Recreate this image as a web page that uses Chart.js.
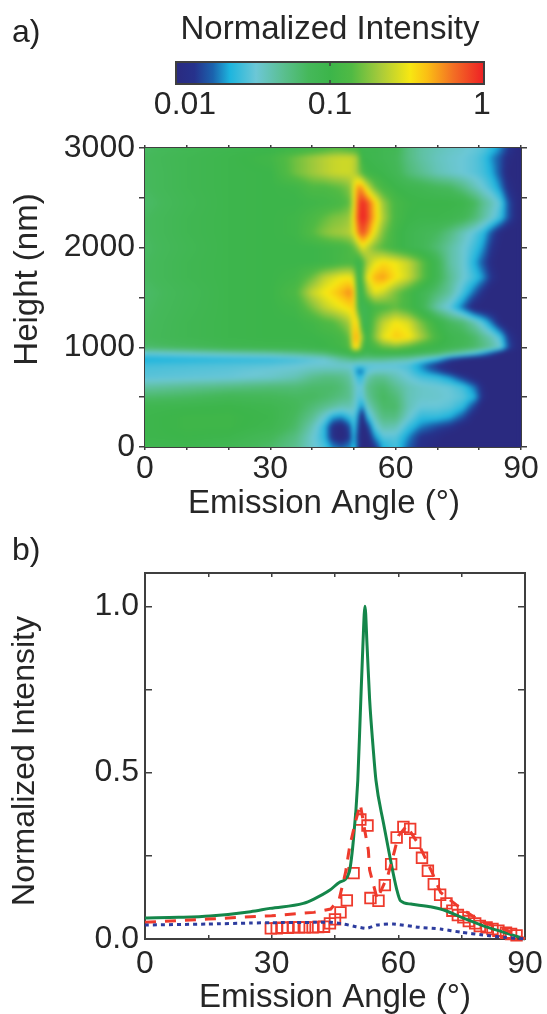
<!DOCTYPE html>
<html><head><meta charset="utf-8">
<style>
html,body{margin:0;padding:0;background:#fff;width:547px;height:1014px;overflow:hidden}
canvas{position:absolute;left:0}
.tag{position:absolute;left:12px;font:32px "Liberation Sans",Arial,sans-serif;color:#222}
</style>
<script src="https://cdn.jsdelivr.net/npm/chart.js@4/dist/chart.umd.min.js"></script>
</head><body>
<canvas id="bar" style="top:0;width:547px;height:125px" width="547" height="125"></canvas>
<canvas id="map" style="top:0;width:547px;height:530px" width="547" height="530"></canvas>
<canvas id="line" style="top:530px;width:547px;height:484px" width="547" height="484"></canvas>
<div class="tag" style="top:13px">a)</div>
<div class="tag" style="top:531px">b)</div>
<script>
const FONT='"Liberation Sans",Arial,sans-serif', INK='#262626', AXIS='#3f3f3f';

// colour bar
const barTicks=[0.01,0.1,1];
const barLabels=['0.01','0.1','1'];
const stopPos=[0,.06,.12,.175,.26,.35,.43,.5,.57,.665,.76,.815,.9,1];
const stopRGB=[[42,42,128],[38,50,140],[27,99,174],[29,181,222],[108,199,214],[90,191,143],[69,184,90],[60,181,74],[80,186,68],[169,203,58],[247,231,18],[251,191,20],[243,111,36],[238,31,37]];

// map: emission angle columns, height rows, intensity per row from 0 nm upward
const mapAngles=[0,10,20,30,36,40,43,45,47,49,50,51,52,53,55,57,60,63,66,70,73,76,79,81,83,85,87,90];
const mapHeights=[0,100,200,300,400,500,600,700,760,820,880,940,1000,1100,1250,1400,1550,1700,1850,2000,2150,2300,2450,2600,2750,2900,3000];
const mapIntensity=[
[.085,.09,.08,.065,.05,.035,.028,.02,.018,.02,.024,.016,.009,.009,.013,.022,.027,.017,.012,.01,.009,.009,.009,.009,.009,.009,.009,.009],
[.095,.1,.095,.075,.055,.035,.024,.012,.009,.014,.025,.014,.009,.009,.02,.03,.03,.02,.013,.011,.009,.009,.009,.009,.009,.009,.009,.009],
[.095,.105,.105,.09,.065,.04,.024,.012,.01,.016,.028,.016,.009,.012,.03,.042,.04,.026,.019,.015,.013,.01,.009,.009,.009,.009,.009,.009],
[.095,.105,.105,.095,.07,.05,.033,.022,.02,.026,.03,.02,.009,.022,.04,.055,.055,.035,.025,.025,.022,.016,.01,.009,.009,.009,.009,.009],
[.09,.095,.1,.09,.075,.06,.05,.045,.04,.04,.036,.027,.018,.035,.05,.065,.065,.04,.032,.032,.03,.024,.014,.009,.009,.009,.009,.009],
[.065,.07,.08,.075,.07,.07,.065,.06,.055,.05,.04,.03,.03,.045,.06,.07,.06,.04,.036,.035,.033,.03,.022,.012,.009,.009,.009,.009],
[.045,.05,.055,.06,.06,.065,.065,.065,.06,.05,.04,.032,.032,.05,.06,.065,.05,.04,.036,.034,.032,.027,.018,.011,.009,.009,.009,.009],
[.03,.031,.032,.035,.04,.05,.055,.055,.052,.045,.035,.025,.025,.04,.05,.05,.04,.033,.028,.025,.02,.014,.01,.009,.009,.009,.009,.009],
[.029,.03,.031,.034,.036,.04,.042,.042,.042,.04,.03,.018,.018,.03,.035,.036,.035,.03,.022,.016,.012,.009,.009,.009,.009,.009,.009,.009],
[.027,.028,.029,.03,.032,.034,.034,.034,.034,.033,.03,.03,.03,.03,.03,.03,.03,.028,.02,.013,.01,.009,.009,.009,.009,.009,.009,.009],
[.022,.023,.024,.025,.027,.03,.033,.038,.045,.05,.055,.05,.05,.05,.05,.05,.045,.042,.034,.024,.015,.011,.009,.009,.009,.009,.009,.009],
[.032,.036,.04,.044,.05,.055,.06,.07,.08,.09,.1,.1,.09,.08,.09,.09,.09,.085,.075,.065,.05,.04,.03,.022,.016,.011,.009,.009],
[.065,.072,.085,.09,.09,.095,.1,.105,.11,.14,.35,.35,.13,.1,.12,.15,.17,.14,.11,.095,.085,.075,.065,.055,.045,.035,.016,.009],
[.072,.085,.095,.1,.1,.1,.105,.11,.12,.16,.45,.45,.2,.1,.18,.3,.4,.35,.22,.12,.09,.08,.065,.05,.04,.028,.014,.009],
[.07,.085,.095,.1,.1,.11,.13,.14,.17,.22,.38,.33,.09,.085,.16,.24,.33,.28,.17,.1,.07,.06,.04,.028,.018,.011,.009,.009],
[.068,.082,.095,.1,.11,.17,.24,.28,.32,.36,.4,.12,.08,.09,.12,.13,.15,.12,.085,.042,.03,.018,.01,.009,.009,.009,.009,.009],
[.066,.08,.095,.1,.13,.25,.33,.38,.45,.55,.42,.09,.09,.18,.3,.26,.17,.12,.085,.06,.045,.028,.017,.012,.009,.009,.009,.009],
[.07,.085,.095,.1,.11,.16,.24,.28,.32,.33,.27,.085,.13,.28,.45,.5,.35,.26,.16,.08,.05,.035,.026,.02,.013,.01,.009,.009],
[.07,.085,.095,.1,.1,.1,.105,.11,.12,.125,.12,.09,.12,.2,.3,.36,.32,.25,.16,.08,.045,.035,.022,.016,.011,.009,.009,.009],
[.068,.082,.095,.1,.1,.1,.105,.11,.115,.13,.15,.2,.3,.25,.17,.14,.11,.09,.08,.06,.045,.035,.026,.02,.013,.01,.009,.009],
[.07,.085,.095,.1,.105,.14,.18,.2,.21,.23,.3,.55,.75,.6,.3,.17,.11,.09,.08,.07,.055,.04,.03,.024,.016,.011,.009,.009],
[.07,.085,.095,.1,.105,.125,.15,.17,.18,.2,.35,.75,1,.85,.42,.22,.12,.1,.095,.095,.09,.08,.06,.045,.035,.026,.016,.009],
[.066,.082,.095,.1,.1,.105,.11,.115,.125,.15,.3,.7,.95,.8,.4,.2,.12,.105,.1,.1,.1,.095,.07,.05,.04,.03,.016,.009],
[.07,.085,.095,.1,.105,.13,.13,.14,.15,.18,.3,.55,.5,.3,.16,.12,.1,.09,.085,.075,.07,.055,.04,.033,.027,.02,.012,.009],
[.07,.085,.095,.1,.16,.2,.23,.25,.26,.26,.24,.19,.14,.11,.1,.095,.08,.06,.05,.04,.036,.033,.03,.027,.022,.016,.01,.009],
[.072,.085,.095,.11,.16,.2,.23,.25,.26,.26,.24,.19,.1,.095,.09,.085,.075,.055,.045,.038,.035,.033,.03,.026,.02,.016,.011,.009],
[.068,.08,.09,.095,.1,.11,.12,.13,.13,.12,.12,.11,.09,.09,.09,.085,.08,.055,.045,.04,.037,.035,.032,.03,.025,.02,.014,.009]
];
const mapXLabels=[0,30,60,90];
const mapYLabels=[0,1000,2000,3000];

// profile lines
const greenAngle=[0,8,15.4,25,29.6,37.5,40,43.8,46,48.3,49.3,50.4,51,51.6,52.1,52.6,53.2,54,54.7,56.5,58,59.6,60.5,63,67.5,70,75,80,85,90];
const greenValue=[.063,.065,.069,.082,.092,.107,.12,.147,.17,.198,.29,.477,.68,.88,1,.88,.72,.58,.477,.347,.247,.15,.115,.105,.097,.09,.065,.04,.02,0];
const dashAngle=[0,15,30,40,44,46,47.5,48.5,50,51,52,52.9,53.2,55,57.5,59,60,62,65,68,70,75,80,85,90];
const dashValue=[.05,.06,.07,.08,.09,.12,.2,.28,.36,.405,.33,.267,.207,.12,.19,.26,.31,.34,.28,.2,.14,.09,.05,.03,0];
const dotAngle=[0,15,25,30,40,44,47,50,52.5,55,58.8,65,70,75,80,85,90];
const dotValue=[.042,.045,.048,.049,.05,.05,.045,.037,.032,.042,.045,.035,.03,.02,.012,.005,0];
const squareAngle=[29.8,31.2,32.5,33.8,35.1,36.5,37.9,39.7,41,42.4,43.8,45,46.3,47.8,49.4,51,52.7,53.4,55.3,56.8,58.3,59.6,61.2,62.8,64,65.6,67,68.4,69.9,71.4,72.8,74.1,75.4,76.7,78.2,79.3,80.9,82.3,83.7,85.5,86.7,88];
const squareValue=[.032,.032,.034,.034,.035,.035,.035,.035,.036,.037,.047,.059,.08,.116,.198,.359,.341,.123,.115,.162,.225,.305,.337,.331,.289,.244,.205,.165,.133,.107,.085,.072,.065,.054,.047,.039,.035,.03,.025,.019,.015,.011];
const lineXLabels=[0,30,60,90];
const lineYLabels=[0,.5,1];

const zip=(a,b)=>a.map((x,i)=>({x,y:b[i]}));
function colour(t){
  t=Math.max(0,Math.min(1,t));
  let i=0; while(i<stopPos.length-2&&t>stopPos[i+1])i++;
  const f=(t-stopPos[i])/(stopPos[i+1]-stopPos[i]);
  return stopRGB[i].map((c,k)=>c+(stopRGB[i+1][k]-c)*f);
}
const toT=v=>(Math.log10(v)+2)/2;
function locate(arr,v){
  let i=0; while(i<arr.length-2&&v>arr[i+1])i++;
  return [i,Math.max(0,Math.min(1,(v-arr[i])/(arr[i+1]-arr[i])))];
}
const heatPlugin={id:'heat',beforeDatasetsDraw(c){
  const {left,top,width,height}=c.chartArea, sx=c.scales.x, sy=c.scales.y;
  const w=Math.round(width),h=Math.round(height);
  const off=document.createElement('canvas');off.width=w;off.height=h;
  const o=off.getContext('2d'),img=o.createImageData(w,h);
  const logs=mapIntensity.map(r=>r.map(toT));
  for(let py=0;py<h;py++){
    const [j,fy]=locate(mapHeights,sy.getValueForPixel(top+py+.5));
    for(let px=0;px<w;px++){
      const [i,fx]=locate(mapAngles,sx.getValueForPixel(left+px+.5));
      const t=(logs[j][i]*(1-fx)+logs[j][i+1]*fx)*(1-fy)+(logs[j+1][i]*(1-fx)+logs[j+1][i+1]*fx)*fy;
      const q=colour(t),p=(py*w+px)*4;
      img.data[p]=q[0];img.data[p+1]=q[1];img.data[p+2]=q[2];img.data[p+3]=255;
    }
  }
  o.putImageData(img,0,0);
  const x=c.ctx;x.save();
  x.beginPath();x.rect(left,top,width,height);x.clip();
  x.drawImage(off,left,top);
  x.filter='blur(2px)';x.drawImage(off,left,top);x.filter='none';
  x.restore();
}};
const barPlugin={id:'barfill',beforeDatasetsDraw(c){
  const {left,top,height}=c.chartArea,s=c.scales.x,x=c.ctx;
  const g=x.createLinearGradient(s.getPixelForValue(barTicks[0]),0,s.getPixelForValue(barTicks[2]),0);
  stopPos.forEach((p,i)=>g.addColorStop(p,`rgb(${stopRGB[i].join(',')})`));
  x.fillStyle=g;x.fillRect(left,top,c.chartArea.width,height);
},afterDraw(c){
  const s=c.scales.x,{top,bottom}=c.chartArea,x=c.ctx;
  x.save();x.strokeStyle=AXIS;x.lineWidth=2;
  x.strokeRect(c.chartArea.left,top,c.chartArea.width,bottom-top);
  const m=s.getPixelForValue(barTicks[1]);
  x.lineWidth=1.5;x.beginPath();x.moveTo(m,top);x.lineTo(m,top+4);x.moveTo(m,bottom-4);x.lineTo(m,bottom);x.stroke();
  x.fillStyle=INK;x.font='32px '+FONT;x.textAlign='center';x.textBaseline='middle';
  const nudge=[9,0,-2];
  barTicks.forEach((v,i)=>x.fillText(barLabels[i],s.getPixelForValue(v)+nudge[i],105));
  x.restore();
}};
const tickFont={family:FONT,size:32}, titleFont={family:FONT,size:33};
const flatX=s=>{s.paddingLeft=0;s.paddingRight=0};
const flatY=s=>{s.paddingTop=0;s.paddingBottom=0};
const mirror=(axis,position,min,max,step,tl,fit)=>({axis,position,min,max,
  border:{display:true,color:AXIS,width:2},
  grid:{drawOnChartArea:false,color:AXIS,lineWidth:1.5,tickLength:tl,drawTicks:true},
  ticks:{display:false,stepSize:step,autoSkip:false,includeBounds:false},afterFit:fit});
// moves a scale's own title along the page
const nudgeTitle=(s,dx,dy)=>{
  if(s._nudged)return; s._nudged=true;
  const draw=s.drawTitle;
  s.drawTitle=function(){this.ctx.save();this.ctx.translate(dx,dy);draw.call(this);this.ctx.restore();};
};

new Chart(document.getElementById('bar'),{type:'scatter',
  data:{datasets:[{label:'Normalized Intensity',data:zip(barTicks,barTicks.map(()=>0)),pointRadius:0}]},
  plugins:[barPlugin],
  options:{animation:false,responsive:false,
    layout:{padding:{left:0,right:63,bottom:41,top:0}},
    plugins:{legend:{display:false},tooltip:{enabled:false}},
    scales:{
      x:{type:'logarithmic',min:.01,max:1,position:'top',
         grid:{display:false},border:{display:false},ticks:{display:false},
         title:{display:true,text:'Normalized Intensity',color:INK,font:titleFont,padding:{top:10,bottom:0}},
         afterFit(s){s.height=62;flatX(s)}},
      y:{type:'linear',min:-1,max:1,position:'left',grid:{display:false},border:{display:false},ticks:{display:false},afterFit(s){s.width=176;flatY(s)}}
    }}
});
new Chart(document.getElementById('map'),{type:'scatter',
  data:{datasets:[{label:'Normalized Intensity',data:mapHeights.flatMap((h,j)=>mapAngles.map((a,i)=>({x:a,y:h,v:mapIntensity[j][i]}))),pointRadius:0}]},
  plugins:[heatPlugin],
  options:{animation:false,responsive:false,
    layout:{padding:{top:145,right:20,left:0,bottom:0}},
    plugins:{legend:{display:false},tooltip:{enabled:false}},
    scales:{
      x:{type:'linear',position:'bottom',min:0,max:90,
        border:{color:AXIS,width:2},grid:{drawOnChartArea:false,color:AXIS,lineWidth:1.5,tickLength:3},
        ticks:{stepSize:10,autoSkip:false,includeBounds:false,maxRotation:0,font:tickFont,color:INK,padding:0,callback:v=>mapXLabels.includes(v)?String(v):''},
        title:{display:true,text:'Emission Angle (°)',font:titleFont,color:INK,padding:{top:0,bottom:6}},
        afterFit(s){s.height=83;flatX(s)},afterUpdate(s){nudgeTitle(s,-9,0)}},
      y:{type:'linear',position:'left',min:0,max:3000,
        border:{color:AXIS,width:2},grid:{drawOnChartArea:false,color:AXIS,lineWidth:1.5,tickLength:6},
        ticks:{stepSize:500,autoSkip:false,includeBounds:false,font:tickFont,color:INK,padding:4,callback:v=>mapYLabels.includes(v)?String(v):''},
        title:{display:true,text:'Height (nm)',font:titleFont,color:INK,padding:{top:8,bottom:0}},
        afterFit(s){s.width=145;flatY(s)},afterUpdate(s){nudgeTitle(s,0,-18)}},
      xTop:mirror('x','top',0,90,10,3,s=>{s.height=3;flatX(s)}),
      yRight:mirror('y','right',0,3000,500,6,s=>{s.width=6;flatY(s)})
    }}
});
new Chart(document.getElementById('line'),{type:'scatter',
  data:{datasets:[
    {label:'Dotted',showLine:true,data:zip(dotAngle,dotValue),borderColor:'#2d3c9e',borderWidth:3,borderDash:[4,4],pointRadius:0,tension:.2},
    {label:'Dashed',showLine:true,data:zip(dashAngle,dashValue),borderColor:'#ee3a2c',borderWidth:3,borderDash:[11,9],pointRadius:0},
    {label:'Solid',showLine:true,data:zip(greenAngle,greenValue),borderColor:'#14864a',borderWidth:3,pointRadius:0,cubicInterpolationMode:'monotone'},
    {label:'Squares',data:zip(squareAngle,squareValue),pointStyle:'rect',pointRadius:7.5,borderColor:'#ee3a2c',borderWidth:1.8,backgroundColor:'rgba(0,0,0,0)'}
  ]},
  options:{animation:false,responsive:false,clip:false,
    layout:{padding:{top:43,right:22,left:0,bottom:0}},
    plugins:{legend:{display:false},tooltip:{enabled:false}},
    scales:{
      x:{type:'linear',position:'bottom',min:0,max:90,
        border:{color:AXIS,width:2},grid:{drawOnChartArea:false,color:AXIS,lineWidth:1.5,tickLength:-4},
        ticks:{stepSize:15,autoSkip:false,includeBounds:false,maxRotation:0,font:tickFont,color:INK,padding:9.5,callback:v=>lineXLabels.includes(v)?String(v):''},
        title:{display:true,text:'Emission Angle (°)',font:titleFont,color:INK,padding:{top:0,bottom:-4}},
        afterFit(s){s.height=75;flatX(s)}},
      y:{type:'linear',position:'left',min:0,max:1.1,
        border:{color:AXIS,width:2},grid:{drawOnChartArea:false,color:AXIS,lineWidth:1.5,tickLength:-7},
        ticks:{stepSize:.25,autoSkip:false,includeBounds:false,font:tickFont,color:INK,padding:13,callback:v=>lineYLabels.includes(v)?v.toFixed(1):''},
        title:{display:true,text:'Normalized Intensity',font:{family:FONT,size:32},color:INK,padding:{top:6,bottom:0}},
        afterFit(s){s.width=145;flatY(s)},afterUpdate(s){nudgeTitle(s,0,5)}},
      xTop:mirror('x','top',0,90,15,-4,s=>{s.height=0;flatX(s)}),
      yRight:mirror('y','right',0,1.1,.25,-7,s=>{s.width=0;flatY(s)})
    }}
});
</script>
</body></html>
